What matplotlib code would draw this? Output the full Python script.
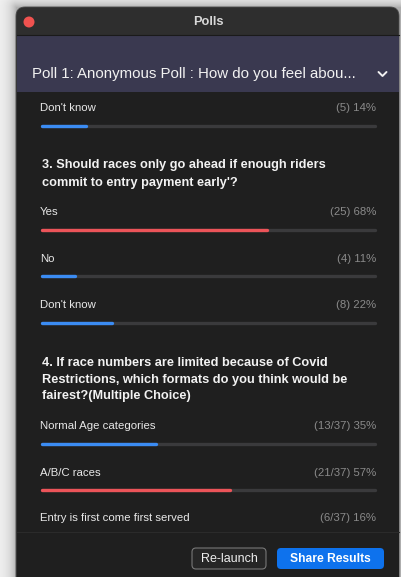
"""
Zoom poll results panel, redrawn with matplotlib.
"""
import numpy as np
import matplotlib
matplotlib.use('Agg')
import matplotlib.pyplot as plt
from matplotlib.patches import FancyBboxPatch, Rectangle, Circle

# --- data -------------------------------------------------------------
poll_title = "Poll 1: Anonymous Poll : How do you feel abou..."

q2_options = ["Don't know"]
q2_counts = ["(5)"]
q2_pct = [14]

q3_lines = ["3. Should races only go ahead if enough riders",
            "commit to entry payment early'?"]
q3_options = ["Yes", "No", "Don't know"]
q3_counts = ["(25)", "(4)", "(8)"]
q3_pct = [68, 11, 22]

q4_lines = ["4. If race numbers are limited because of Covid",
            "Restrictions, which formats do you think would be",
            "fairest?(Multiple Choice)"]
q4_options = ["Normal Age categories", "A/B/C races", "Entry is first come first served"]
q4_counts = ["(13/37)", "(21/37)", "(6/37)"]
q4_pct = [35, 57, 16]

# --- colours ----------------------------------------------------------
FONDO_TITULO = "#2e2e2e"
FONDO_CABEZA = "#3a3950"
FONDO = "#1f1f1f"
PISTA = "#3a3a3c"
AZUL = "#3b8cf3"
ROJO = "#ec5459"
TEXTO = "#e8e8e8"
GRIS = "#8a8a8a"

FUENTE = ["Liberation Sans", "DejaVu Sans"]
W, H = 401, 577
X0, X1 = 16, 399          # window edges
BAR_X0, BAR_X1 = 40, 376  # track
CAP = 1.5                 # half the bar thickness, taken by the round caps

fig = plt.figure(figsize=(W / 100, H / 100), dpi=100)
ax = fig.add_axes([0, 0, 1, 1])
ax.set_xlim(0, W)
ax.set_ylim(H, 0)
ax.axis('off')

# desktop background with soft shadow round the window
yy, xx = np.mgrid[0:H, 0:W]
dx = np.maximum(X0 - xx, 0)
dy = np.maximum(7 - yy, 0)
d = np.hypot(dx, dy)
fondo = 244 - 70 * np.exp(-d / 7.0)
ax.imshow(fondo, cmap='gray', vmin=0, vmax=255, extent=(0, W, H, 0), zorder=0)

# window
ax.add_patch(FancyBboxPatch((X0, 7), X1 - X0, H + 20, boxstyle="round,pad=0,rounding_size=9",
                            fc=FONDO_TITULO, ec="#4a4a4a", lw=0.6, zorder=1))
ax.add_patch(Rectangle((X0 + 0.5, 35), X1 - X0 - 1, 57, fc=FONDO_CABEZA, ec='none', zorder=2))
ax.plot([X0 + 0.5, X1 - 0.5], [35, 35], color="#1a1a1a", lw=0.8, zorder=3)
ax.add_patch(Rectangle((X0 + 0.5, 92), X1 - X0 - 1, H - 92, fc=FONDO, ec='none', zorder=2))

ax.add_patch(Circle((29, 22), 5.5, fc="#f0524f", ec='none', zorder=3))
ax.text(208, 22, "Polls", color="#d8d8d8", fontsize=9.2, fontweight='bold',
        family=FUENTE, ha='center', va='center', zorder=3)

ax.text(32, 74, poll_title, color="#f2f2f2", fontsize=10.8, family=FUENTE,
        ha='left', va='center', zorder=3)
ax.plot([378.5, 382.5, 386.5], [72, 76, 72], color="#f2f2f2", lw=1.4,
        solid_capstyle='round', solid_joinstyle='round', zorder=3)


def opcion(y_lbl, nombre, cuenta, pct, ganador):
    ax.text(BAR_X0, y_lbl, nombre, color=TEXTO, fontsize=8.2, family=FUENTE,
            ha='left', va='center', zorder=3)
    ax.text(BAR_X1, y_lbl, f"{cuenta} {pct}%", color=GRIS, fontsize=8.2, family=FUENTE,
            ha='right', va='center', zorder=3)
    yb = y_lbl + 17.5
    ax.plot([BAR_X0 + CAP, BAR_X1 - CAP], [yb, yb], color=PISTA, lw=2.4,
            solid_capstyle='round', zorder=3)
    fin = BAR_X0 + (BAR_X1 - BAR_X0) * pct / 100
    ax.plot([BAR_X0 + CAP, fin - CAP], [yb, yb], color=ROJO if ganador else AZUL, lw=2.4,
            solid_capstyle='round', zorder=4)


def pregunta(ys, lineas):
    for y, t in zip(ys, lineas):
        ax.text(42, y, t, color="#f2f2f2", fontsize=9.15, fontweight='bold', family=FUENTE,
                ha='left', va='center', zorder=3)


for y, n, c, p in zip([108], q2_options, q2_counts, q2_pct):
    opcion(y, n, c, p, False)

pregunta([165, 183], q3_lines)
for y, n, c, p in zip([212, 258.5, 305], q3_options, q3_counts, q3_pct):
    opcion(y, n, c, p, p == max(q3_pct))

pregunta([363, 379.5, 396], q4_lines)
for y, n, c, p in zip([426, 472.5, 518], q4_options, q4_counts, q4_pct):
    opcion(y, n, c, p, p == max(q4_pct))

# footer with buttons
ax.add_patch(Rectangle((X0 + 0.5, 532), X1 - X0 - 1, H - 532, fc=FONDO, ec='none', zorder=6))
ax.plot([X0 + 0.5, X1 - 0.5], [532, 532], color="#2b2b2b", lw=0.8, zorder=7)
ax.add_patch(FancyBboxPatch((192, 548), 74, 21, boxstyle="round,pad=0,rounding_size=4",
                            fc="#262626", ec="#777777", lw=0.8, zorder=7))
ax.text(229, 558.5, "Re-launch", color="#eeeeee", fontsize=9.0, family=FUENTE,
        ha='center', va='center', zorder=8)
ax.add_patch(FancyBboxPatch((277, 548), 107, 21, boxstyle="round,pad=0,rounding_size=4",
                            fc="#0e72ed", ec='none', zorder=7))
ax.text(330.5, 558.5, "Share Results", color="white", fontsize=8.7, fontweight='bold',
        family=FUENTE, ha='center', va='center', zorder=8)

fig.savefig("out.png", dpi=100)
